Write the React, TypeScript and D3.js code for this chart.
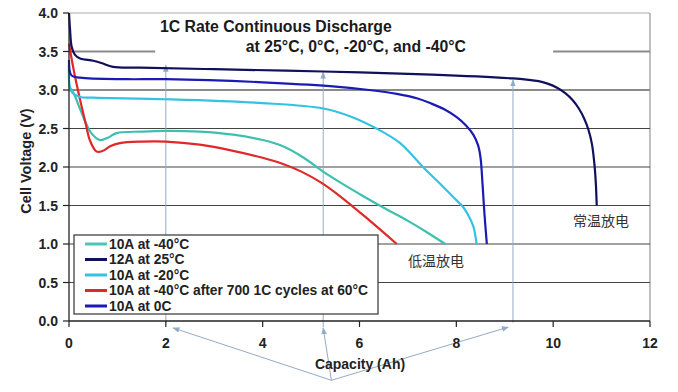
import React from 'react';
import * as d3 from 'd3';

const xTicks = [0, 2, 4, 6, 8, 10, 12];
const yTicks = [0, 0.5, 1.0, 1.5, 2.0, 2.5, 3.0, 3.5, 4.0];

const navyX = [0, 0.02, 0.055, 0.12, 0.23, 0.5, 0.67, 0.91, 1.47, 3, 5.25, 7.5, 9.17, 9.45, 9.7, 9.9, 10.08, 10.25, 10.4, 10.53, 10.64, 10.73, 10.8, 10.85, 10.88, 10.9];
const navyV = [4.0, 3.8, 3.56, 3.46, 3.41, 3.38, 3.35, 3.30, 3.29, 3.27, 3.24, 3.20, 3.15, 3.135, 3.115, 3.08, 3.03, 2.96, 2.87, 2.76, 2.63, 2.48, 2.3, 2.05, 1.8, 1.5];

const blueX = [0, 0.05, 0.23, 1.19, 2.0, 4.0, 5.39, 6.2, 6.77, 7.2, 7.46, 7.75, 8.0, 8.2, 8.35, 8.45, 8.5, 8.54, 8.58, 8.63];
const blueV = [3.39, 3.19, 3.16, 3.14, 3.14, 3.10, 3.05, 3.00, 2.95, 2.89, 2.83, 2.75, 2.65, 2.54, 2.42, 2.28, 2.12, 1.79, 1.4, 1.0];

const cyanX = [0, 0.05, 0.23, 0.5, 2.0, 4.0, 5.25, 5.8, 6.35, 6.84, 7.31, 7.7, 8.0, 8.14, 8.25, 8.35, 8.42];
const cyanV = [3.35, 2.98, 2.91, 2.90, 2.88, 2.83, 2.76, 2.66, 2.50, 2.31, 2.00, 1.76, 1.57, 1.48, 1.37, 1.23, 1.0];

const tealX = [0, 0.1, 0.25, 0.45, 0.64, 0.8, 0.98, 1.5, 2.0, 2.7, 3.39, 4.0, 4.42, 4.85, 5.25, 5.6, 6.08, 6.5, 7.0, 7.4, 7.77];
const tealV = [3.05, 2.95, 2.72, 2.45, 2.35, 2.38, 2.44, 2.46, 2.47, 2.46, 2.42, 2.35, 2.27, 2.12, 1.94, 1.80, 1.62, 1.47, 1.3, 1.15, 1.0];

const redX = [0, 0.1, 0.23, 0.35, 0.43, 0.57, 0.7, 0.85, 1.05, 1.5, 2.0, 2.7, 3.39, 4.0, 4.42, 4.8, 5.2, 5.6, 6.2, 6.77];
const redV = [3.6, 3.25, 2.87, 2.55, 2.35, 2.2, 2.21, 2.27, 2.31, 2.33, 2.33, 2.29, 2.21, 2.12, 2.04, 1.94, 1.80, 1.62, 1.31, 1.0];

const legendLabels = [
  '10A at -40°C',
  '12A at 25°C',
  '10A at -20°C',
  '10A at -40°C after 700 1C cycles at 60°C',
  '10A at 0C',
];
const legendColors = ['#4cc6b6', '#10105c', '#34c2e2', '#e02828', '#1a1ab4'];

// annotation arrows (data space)
const arrowX = [2.0, 5.25, 9.17];
const arrowTipV = [3.32, 3.23, 3.13];
const diagFrom = [5.42, -0.77];
const diagToX = [2.15, 5.25, 9.07];
const diagToV = [-0.09, -0.09, -0.08];
const gridGap35 = [1.78, 10.0];

const W = 678, H = 392;
const L = 69, R = 650, T = 13, B = 321;
const FONT = '"Liberation Sans", Arial, Helvetica, sans-serif';

export default function App() {
  const x = d3.scaleLinear().domain([0, 12]).range([L, R]);
  const y = d3.scaleLinear().domain([0, 4]).range([B, T]);
  const line = d3
    .line<[number, number]>()
    .x((d) => x(d[0]))
    .y((d) => y(d[1]))
    .curve(d3.curveCatmullRom.alpha(0.5));
  const mk = (xs: number[], vs: number[]) => line(xs.map((v, i) => [v, vs[i]] as [number, number])) || '';

  const series = [
    { d: mk(tealX, tealV), c: '#3fbfae' },
    { d: mk(redX, redV), c: '#e02828' },
    { d: mk(cyanX, cyanV), c: '#34c2e2' },
    { d: mk(blueX, blueV), c: '#1a1ab4' },
    { d: mk(navyX, navyV), c: '#10105c' },
  ];
  const annot = '#93abc4';

  return (
    <svg
      width={W}
      height={H}
      style={{ position: 'absolute', left: 0, top: 0, background: '#fff' }}
      fontFamily={FONT}
    >
      <defs>
        <marker id="ah" viewBox="0 0 10 10" refX="9" refY="5" markerWidth="7" markerHeight="7" orient="auto-start-reverse" markerUnits="userSpaceOnUse">
          <path d="M0,1 L10,5 L0,9 z" fill={annot} />
        </marker>
      </defs>
      <rect x={0} y={0} width={W} height={H} fill="#fff" />
      {/* border top/right */}
      <line x1={L} x2={R} y1={y(4)} y2={y(4)} stroke="#aaa" strokeWidth={1.2} />
      <line x1={R} x2={R} y1={y(4)} y2={y(0)} stroke="#aaa" strokeWidth={1.5} />
      {/* gridlines */}
      {yTicks.filter((t) => t > 0 && t < 4).map((t) => {
        const strong = t === 3.0 || t === 3.5;
        const st = strong ? '#8a8a8a' : '#444';
        const sw = strong ? 2 : 1.1;
        if (t === 3.5) {
          return (
            <g key={t}>
              <line x1={x(0)} x2={x(gridGap35[0])} y1={y(t)} y2={y(t)} stroke={st} strokeWidth={sw} />
              <line x1={x(gridGap35[1])} x2={x(12)} y1={y(t)} y2={y(t)} stroke={st} strokeWidth={sw} />
            </g>
          );
        }
        return <line key={t} x1={x(0)} x2={x(12)} y1={y(t)} y2={y(t)} stroke={st} strokeWidth={sw} />;
      })}
      {/* annotation vertical arrows */}
      {arrowX.map((ax, i) => (
        <line key={'va' + i} x1={x(ax)} x2={x(ax)} y1={y(i === 1 ? -0.08 : -0.02)} y2={y(arrowTipV[i])} stroke={annot} strokeWidth={1} markerEnd="url(#ah)" />
      ))}
      {/* annotation diagonal arrows */}
      {diagToX.map((tx, i) => (
        <line key={'da' + i} x1={x(diagFrom[0])} y1={y(diagFrom[1])} x2={x(tx)} y2={y(diagToV[i])} stroke={annot} strokeWidth={1} markerEnd="url(#ah)" />
      ))}
      {/* series */}
      {series.map((s, i) => (
        <path key={i} d={s.d} fill="none" stroke={s.c} strokeWidth={2.2} strokeLinejoin="round" />
      ))}
      {/* axes */}
      <line x1={L} x2={L} y1={y(4)} y2={y(0)} stroke="#222" strokeWidth={1.3} />
      <line x1={L} x2={R} y1={y(0)} y2={y(0)} stroke="#222" strokeWidth={1.3} />
      {yTicks.map((t) => (
        <g key={'yt' + t}>
          <line x1={L - 6} x2={L} y1={y(t)} y2={y(t)} stroke="#222" strokeWidth={1.2} />
          <text x={L - 11} y={y(t)} dy="0.36em" textAnchor="end" fontSize={14} fontWeight="bold" fill="#222">
            {d3.format('.1f')(t)}
          </text>
        </g>
      ))}
      {xTicks.map((t) => (
        <g key={'xt' + t}>
          <line x1={x(t)} x2={x(t)} y1={B} y2={B + 6} stroke="#222" strokeWidth={1.2} />
          <text x={x(t)} y={B + 27} textAnchor="middle" fontSize={14} fontWeight="bold" fill="#222">
            {t}
          </text>
        </g>
      ))}
      <text x={360} y={369} textAnchor="middle" fontSize={14} fontWeight="bold" fill="#222">
        Capacity (Ah)
      </text>
      <text transform="translate(31,161) rotate(-90)" textAnchor="middle" fontSize={14.5} fontWeight="bold" fill="#222">
        Cell Voltage (V)
      </text>
      {/* title */}
      <text x={160} y={32} fontSize={15.8} fontWeight="bold" fill="#1a1a1a">
        1C Rate Continuous Discharge
      </text>
      <text x={466} y={52} textAnchor="end" fontSize={15.8} fontWeight="bold" fill="#1a1a1a">
        at 25°C, 0°C, -20°C, and -40°C
      </text>
      {/* Chinese labels */}
      <text x={573} y={226} fontSize={14} fill="#333" fontFamily='"Noto Sans CJK SC", sans-serif'>
        常温放电
      </text>
      <text x={408} y={266} fontSize={14} fill="#333" fontFamily='"Noto Sans CJK SC", sans-serif'>
        低温放电
      </text>
      {/* legend */}
      <rect x={74} y={235} width={304} height={79} fill="#fff" stroke="#333" strokeWidth={1.2} />
      {legendLabels.map((lab, i) => {
        const cy = 244 + i * 15.5;
        return (
          <g key={'lg' + i}>
            <line x1={85} x2={107} y1={cy} y2={cy} stroke={legendColors[i]} strokeWidth={3} />
            <text x={109} y={cy} dy="0.36em" fontSize={13.8} fontWeight="bold" fill="#222">
              {lab}
            </text>
          </g>
        );
      })}
    </svg>
  );
}
